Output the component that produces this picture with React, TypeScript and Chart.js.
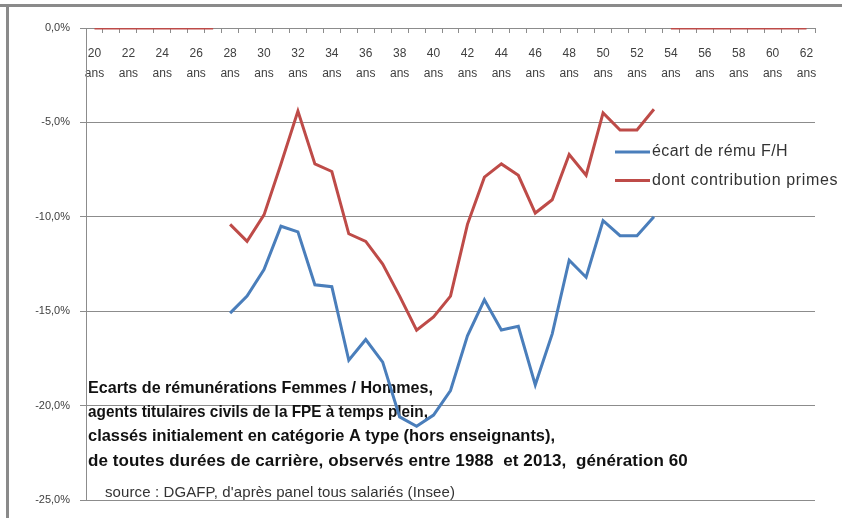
import { useEffect, useRef } from 'react';
import { Chart, registerables } from 'chart.js';

Chart.register(...registerables);

// ---- data ----
const AGES = [20, 21, 22, 23, 24, 25, 26, 27, 28, 29, 30, 31, 32, 33, 34, 35, 36, 37, 38, 39, 40,
  41, 42, 43, 44, 45, 46, 47, 48, 49, 50, 51, 52, 53, 54, 55, 56, 57, 58, 59, 60, 61, 62];
const TICK_AGES = [20, 22, 24, 26, 28, 30, 32, 34, 36, 38, 40, 42, 44, 46, 48, 50, 52, 54, 56, 58, 60, 62];
const Y_MIN = -25;
const Y_MAX = 0;
const Y_STEP = 5;

// écart de rému F/H (%), ages 20..62
const ECART = [null, null, null, null, null, null, null, null,
  -15.1, -14.2, -12.8, -10.5, -10.8, -13.6, -13.7, -17.6, -16.5, -17.7, -20.6, -21.1, -20.5,
  -19.2, -16.3, -14.4, -16.0, -15.8, -18.9, -16.2, -12.3, -13.2, -10.2, -11.0, -11.0, -10.0,
  null, null, null, null, null, null, null, null, null];
// dont contribution primes (%), ages 20..62
const PRIMES = [0, 0, 0, 0, 0, 0, 0, 0,
  -10.4, -11.3, -9.9, -7.2, -4.4, -7.2, -7.6, -10.9, -11.3, -12.5, -14.2, -16.0, -15.3,
  -14.2, -10.4, -7.9, -7.2, -7.8, -9.8, -9.1, -6.7, -7.8, -4.5, -5.4, -5.4, -4.3,
  0, 0, 0, 0, 0, 0, 0, 0, 0];

const SERIES_NAMES = ['écart de rému F/H', 'dont contribution primes'];
const SERIES_COLORS = ['#4A7EBB', '#BE4B48'];

const NOTE_LINES = [
  'Ecarts de rémunérations Femmes / Hommes,',
  'agents titulaires civils de la FPE à temps plein,',
  'classés initialement en catégorie A type (hors enseignants),',
  'de toutes durées de carrière, observés entre 1988  et 2013,  génération 60',
];
const NOTE_WIDTHS = [345, 340, 467, 600];
const SOURCE_TEXT = "source : DGAFP, d'après panel tous salariés (Insee)";

const FONT = '"Liberation Sans", Arial, sans-serif';
const TEXT_COLOR = '#404040';
const GRID_COLOR = '#8c8c8c';

function fitText(ctx: CanvasRenderingContext2D, text: string, x: number, y: number, width: number) {
  (ctx as any).letterSpacing = '0px';
  const w = ctx.measureText(text).width;
  if (w > width) {
    ctx.fillText(text, x, y, width);
  } else {
    const n = Array.from(text).length;
    (ctx as any).letterSpacing = ((width - w) / n).toFixed(2) + 'px';
    ctx.fillText(text, x, y);
    (ctx as any).letterSpacing = '0px';
  }
}

const overlayPlugin = {
  id: 'overlay',
  beforeDatasetsDraw(chart: any) {
    const ctx: CanvasRenderingContext2D = chart.ctx;
    const left = chart.chartArea.left;
    ctx.save();
    ctx.fillStyle = '#111111';
    ctx.textBaseline = 'middle';
    ctx.textAlign = 'left';
    ctx.font = `bold 17px ${FONT}`;
    NOTE_LINES.forEach((line, i) => {
      fitText(ctx, line, left + 2, 388 + i * 24.3, NOTE_WIDTHS[i]);
    });
    ctx.font = `15px ${FONT}`;
    ctx.fillStyle = '#333333';
    fitText(ctx, SOURCE_TEXT, left + 19, 493, 350);
    ctx.restore();
  },
  afterDraw(chart: any) {
    const ctx: CanvasRenderingContext2D = chart.ctx;
    ctx.save();
    const widths = [136, 186];
    chart.data.datasets.forEach((ds: any, i: number) => {
      const y = 152 + i * 28.5;
      ctx.strokeStyle = ds.borderColor;
      ctx.lineWidth = 3;
      ctx.beginPath();
      ctx.moveTo(615, y);
      ctx.lineTo(650, y);
      ctx.stroke();
      ctx.fillStyle = '#333333';
      ctx.font = `16px ${FONT}`;
      ctx.textBaseline = 'middle';
      ctx.textAlign = 'left';
      fitText(ctx, ds.label, 652, y, widths[i]);
    });
    ctx.restore();
  },
};

export default function App() {
  const ref = useRef<HTMLCanvasElement | null>(null);

  useEffect(() => {
    if (!ref.current) return;
    const isZero = (v: any) => v === 0;
    const chart = new Chart(ref.current, {
      type: 'line',
      data: {
        labels: AGES,
        datasets: [
          {
            label: SERIES_NAMES[0],
            data: ECART,
            borderColor: SERIES_COLORS[0],
            backgroundColor: SERIES_COLORS[0],
            borderWidth: 3,
            pointRadius: 0,
            tension: 0,
            order: 1,
          },
          {
            label: SERIES_NAMES[1],
            data: PRIMES,
            borderColor: SERIES_COLORS[1],
            backgroundColor: SERIES_COLORS[1],
            borderWidth: 3,
            pointRadius: 0,
            tension: 0,
            order: 0,
            segment: {
              borderColor: (c: any) =>
                isZero(c.p0.parsed.y) !== isZero(c.p1.parsed.y) ? 'rgba(0,0,0,0)' : undefined,
            },
          },
        ],
      },
      options: {
        animation: false,
        responsive: true,
        maintainAspectRatio: false,
        layout: { padding: { left: 0, top: 28, right: 27, bottom: 18 } },
        plugins: {
          legend: { display: false },
          tooltip: { enabled: false },
        },
        scales: {
          x: {
            type: 'category',
            position: { y: 0 } as any,
            offset: true,
            grid: {
              offset: true,
              drawOnChartArea: false,
              drawTicks: true,
              tickLength: 4,
              color: GRID_COLOR,
            },
            border: { display: true, color: GRID_COLOR, width: 1 },
            ticks: {
              autoSkip: false,
              maxRotation: 0,
              minRotation: 0,
              padding: 12,
              color: TEXT_COLOR,
              font: { family: FONT, size: 12, lineHeight: 1.67 },
              callback: function (_v: any, idx: number) {
                const age = AGES[idx];
                return TICK_AGES.includes(age) ? [String(age), 'ans'] : '';
              },
            },
          },
          y: {
            min: Y_MIN,
            max: Y_MAX,
            afterFit: (scale: any) => {
              scale.width = 86;
            },
            grid: {
              color: GRID_COLOR,
              lineWidth: 1,
              drawTicks: true,
              tickLength: 6,
            },
            border: { display: true, color: GRID_COLOR, width: 1 },
            ticks: {
              stepSize: Y_STEP,
              padding: 10,
              color: TEXT_COLOR,
              font: { family: FONT, size: 11 },
              callback: (v: any) => Number(v).toFixed(1).replace('.', ',').replace('-0,0', '0,0') + '%',
            },
          },
        },
      },
      plugins: [overlayPlugin],
    });
    return () => chart.destroy();
  }, []);

  return (
    <div style={{ position: 'fixed', left: 0, top: 0, width: 842, height: 518, background: '#ffffff' }}>
      <canvas ref={ref} />
      <div style={{ position: 'absolute', left: 0, top: 4, width: 842, height: 3, background: '#8a8a8a' }} />
      <div style={{ position: 'absolute', left: 6, top: 4, width: 3, height: 514, background: '#8a8a8a' }} />
    </div>
  );
}
